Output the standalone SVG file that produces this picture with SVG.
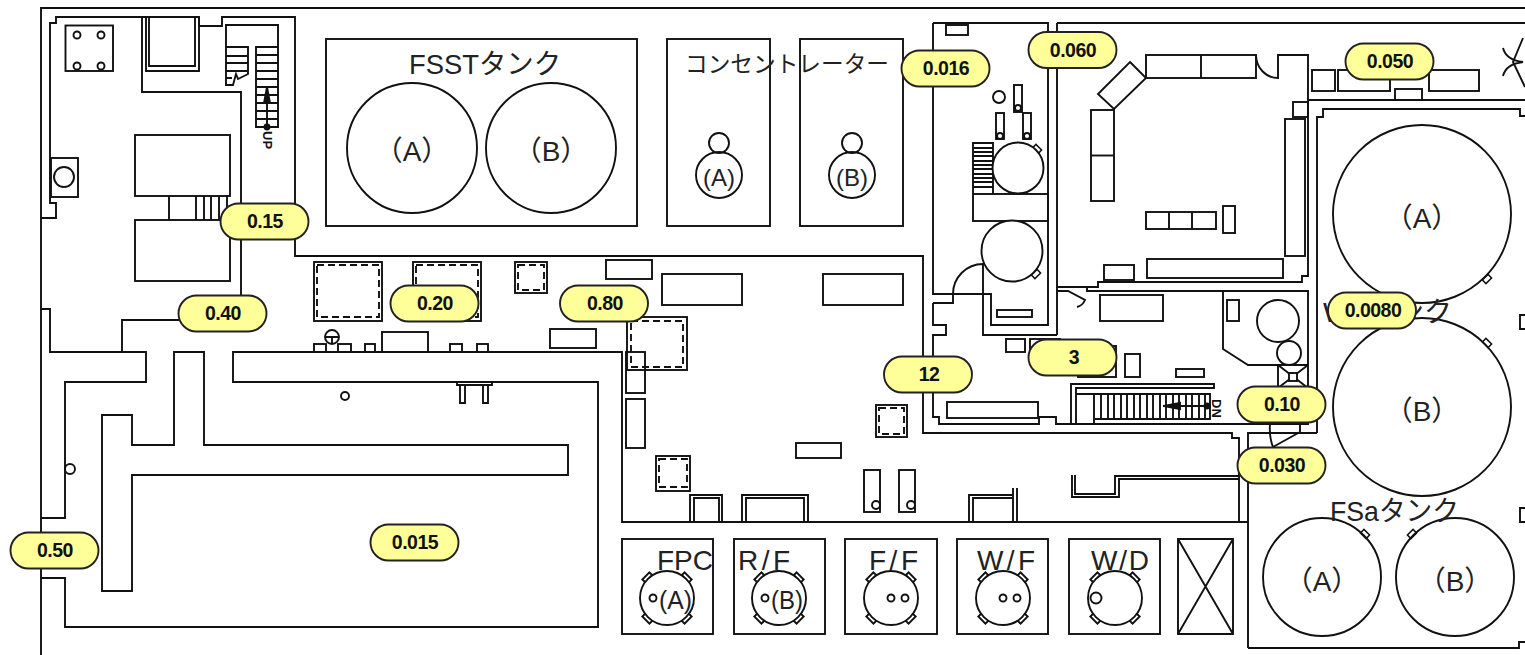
<svg xmlns="http://www.w3.org/2000/svg" width="1525" height="655" viewBox="0 0 1525 655">
<style>
.l{fill:none;stroke:#111;stroke-width:1.9}
.d{fill:none;stroke:#111;stroke-width:1.9;stroke-dasharray:7 4}
.t{font-family:"Liberation Sans","Noto Sans CJK JP",sans-serif;fill:#222;font-size:28px;stroke:none}
.m{font-size:24px;text-anchor:middle}
.c{text-anchor:middle}
.s{font-size:13px;font-weight:bold;fill:#111}
.b rect{fill:#ffff99;stroke:#222;stroke-width:1.9}
.b text{font-family:"Liberation Sans",sans-serif;font-weight:bold;font-size:19.5px;letter-spacing:-.5px;fill:#111;text-anchor:middle}
</style>
<defs>
<rect id="tab" x="-6" y="-2.500" width="12" height="5" fill="#fff" stroke="#111" stroke-width="1.9"/>
<rect id="tabs" x="-4" y="-2.500" width="8" height="5" fill="#fff" stroke="#111" stroke-width="1.5"/>
<rect id="tabp" x="-5" y="-3" width="10" height="6" fill="#fff" stroke="#111" stroke-width="1.9"/>
<g id="pool">
<use href="#tabp" transform="translate(-19,-20) rotate(-45)"/>
<use href="#tabp" transform="translate(19,-20) rotate(45)"/>
<use href="#tabp" transform="translate(-19,20) rotate(45)"/>
<use href="#tabp" transform="translate(19,20) rotate(-45)"/>
<circle r="27" fill="#fff" stroke="#111" stroke-width="1.9"/>
</g>
</defs>
<rect width="1525" height="655" fill="#fff"/>

<g id="walls" class="l">
<path d="M41,655V8H1525"/>
<path d="M41,218H56V203H50V23H56V17H199V26H222V17H295V256H923V433H1232V438H1239V522"/>
<path d="M142,17V92H241V295"/>
<path d="M122,351V320H180"/>
<path d="M41,309H50V352H146V382H65V518H41"/>
<path d="M41,578H65V627H598V382H233V352H622V522H1248"/>
<path d="M102,415H132V445H174V352H204V445H568V475H132V591H102Z"/>
<path d="M1057,23H1525M1057,23V287H1098V282H1302V276H1308V55H1278V78A22,23 0 0 1 1256,55"/>
<path d="M1308,100H1525M1317,433V117H1323V109H1520V116H1525"/>
<path d="M1248,648V433H1317M1248,648H1519V642H1525"/>
<path d="M933,23H1048V325H991V294H933V23M933,303H953V294A30,30 0 0 1 983,264V335H1057"/>
<path d="M1057,335V287M933,303V325H946V335H933V417H939V424H1039V417H1056V424H1308V291H1087V287M1057,291H1068L1085,300A12,12 0 0 1 1077,307"/>
<path d="M1223,291V349L1248,365H1308"/>
<path d="M1270,424Q1269,437 1273,447L1300,432V424"/>
<path d="M1072,475V497H1119V479H1239M1075,475V494H1115V476H1239"/>
<path d="M969,522V495H1013M973,522V498H1013M1013,522V488M1017,522V488"/>
<path d="M690,522V495H722V522M694,522V498H719V522M742,522V495H808V522M746,522V498H804V522"/>
<path d="M1503,48Q1506,60 1523,62Q1506,64 1503,76M1523,38L1513,62L1525,87"/>
<path d="M1525,315H1520V329H1525M1525,508H1520V522H1525"/>
</g>

<g id="stairs-nw" class="l">
<path d="M226,47V25H278V127H256V47H278M226,47H248V74L238,79L236,74L233,85L226,85V47"/>
<path d="M226,56H248M226,63H248M226,71H248M226,78H232M256,55H278M256,63H278M256,71H278M256,79H278M256,87H278M256,95H278M256,103H278M256,111H278M256,119H278"/>
<path d="M267,127V92"/>
<path d="M267,87L270,103H264Z" fill="#111"/>
<circle cx="267" cy="127" r="2.500" fill="#111"/>
<text class="t s" transform="translate(263,131) rotate(90)">UP</text>
</g>

<g id="nw-room" class="l">
<rect x="65.500" y="25.500" width="47.500" height="45.500"/>
<circle cx="77" cy="35" r="3.500"/><circle cx="101" cy="35" r="3.500"/><circle cx="77" cy="66" r="3.500"/><circle cx="101" cy="66" r="3.500"/>
<path d="M146,17V71H199V17M149,17V66H195V17"/>
<rect x="135" y="135" width="95" height="61"/>
<rect x="135" y="220" width="95" height="61"/>
<path d="M169,196V220M196,196V220M204,196V220M211,196V220M219,196V220M227,196V220"/>
<rect x="51" y="158" width="27" height="39"/>
<circle cx="64" cy="177" r="10"/>
<circle cx="70" cy="469" r="5"/>
</g>

<g id="fsst">
<rect class="l" x="326" y="39" width="311" height="187"/>
<circle class="l" cx="412" cy="148" r="65"/>
<circle class="l" cx="551" cy="148" r="65"/>
<text class="t" x="409" y="74" textLength="152" lengthAdjust="spacingAndGlyphs">FSSTタンク</text>
<text class="t c" x="412" y="161">（A）</text>
<text class="t c" x="551" y="161">（B）</text>
</g>

<g id="concentrator">
<rect class="l" x="667" y="39" width="103" height="187"/>
<rect class="l" x="800" y="39" width="103" height="187"/>
<circle class="l" cx="719" cy="143" r="10"/>
<circle class="l" cx="719" cy="175" r="23"/>
<circle class="l" cx="852" cy="143" r="10"/>
<circle class="l" cx="852" cy="175" r="23"/>
<text class="t m" x="719" y="186">(A)</text>
<text class="t m" x="852" y="186">(B)</text>
<text class="t" x="685" y="72" style="font-size:23px" textLength="204" lengthAdjust="spacingAndGlyphs">コンセントレーター</text>
</g>

<g id="mid-hall" class="l">
<rect x="314" y="262" width="68" height="59"/><rect class="d" x="317" y="265" width="62" height="52"/>
<rect x="413" y="262" width="68" height="59"/><rect class="d" x="416" y="265" width="62" height="52"/>
<rect x="515" y="262" width="32" height="31"/><rect class="d" x="518" y="265" width="26" height="25"/>
<rect x="606" y="260" width="46" height="19"/>
<rect x="662" y="274" width="80" height="31"/>
<rect x="823" y="274" width="80" height="31"/>
<rect x="550" y="329" width="46" height="19"/>
<rect x="627" y="317" width="60" height="53"/><rect class="d" x="631" y="321" width="52" height="46"/>
<rect x="626" y="352" width="19" height="41"/>
<rect x="626" y="399" width="19" height="49"/>
<circle cx="332" cy="337" r="7"/>
<path d="M326,337H338M332,337V344"/>
<rect x="314" y="344" width="12" height="8"/><rect x="338" y="344" width="13" height="8"/><rect x="365" y="344" width="10" height="8"/>
<rect x="382" y="332" width="46" height="20"/>
<rect x="450" y="344" width="12" height="8"/><rect x="477" y="344" width="11" height="8"/>
<circle cx="345" cy="396" r="4"/>
<path d="M457,382V385H492V382M460,385V403H465V385M483,385V403H488V385"/>
<rect x="876" y="405" width="31" height="32"/><rect class="d" x="879" y="408" width="25" height="26"/>
<rect x="656" y="456" width="34" height="35"/><rect class="d" x="659" y="459" width="28" height="28"/>
<rect x="796" y="443" width="45" height="15"/>
<rect x="864" y="470" width="16" height="42"/><circle cx="876" cy="505" r="4"/>
<rect x="899" y="470" width="16" height="42"/><circle cx="911" cy="505" r="4"/>
</g>

<g id="spent-room" class="l">
<rect x="946" y="25" width="22" height="10"/>
<circle cx="999" cy="97" r="6"/>
<rect x="1014" y="85" width="8" height="27"/><circle cx="1018" cy="108" r="3"/>
<rect x="996" y="113" width="8" height="26"/><circle cx="1000" cy="136" r="3"/>
<rect x="1023" y="113" width="8" height="26"/><circle cx="1027" cy="136" r="3"/>
<path d="M973,194V143H993V194M973,148H993M973,152H993M973,156H993M973,161H993M973,165H993M973,169H993M973,174H993M973,178H993M973,182H993M973,187H993"/>
<use href="#tabs" transform="translate(1037,149) rotate(45)"/>
<circle cx="1018" cy="168" r="25.500" fill="#fff"/>
<rect x="973" y="194" width="75" height="27"/>
<use href="#tabs" transform="translate(1036,274) rotate(-45)"/>
<circle cx="1012" cy="251" r="30.500" fill="#fff"/>
<rect x="997" y="310" width="35" height="7"/>
</g>

<g id="ne-room" class="l">
<path d="M1130,62L1146,78L1114,109L1098,94Z"/>
<rect x="1146" y="55" width="110" height="23"/><path d="M1201,55V78"/>
<rect x="1091" y="110" width="23" height="91"/><path d="M1091,155.500H1114"/>
<rect x="1146" y="212" width="70" height="17"/><path d="M1169,212V229M1192,212V229"/>
<rect x="1223" y="206" width="12" height="27"/>
<rect x="1285" y="119" width="20" height="137"/>
<rect x="1293" y="102" width="15" height="15"/>
<rect x="1147" y="259" width="136" height="19"/>
<rect x="1104" y="265" width="30" height="15"/>
<rect x="1312" y="70" width="23" height="21"/>
<rect x="1338" y="70" width="52" height="21"/>
<rect x="1429" y="70" width="50" height="21"/>
<rect x="1395" y="89" width="27" height="11"/>
</g>

<g id="se-room" class="l">
<rect x="1100" y="295" width="63" height="26"/>
<rect x="1227" y="300" width="12" height="21"/>
<circle cx="1278" cy="321" r="21"/>
<circle cx="1289" cy="353" r="12"/>
<path d="M1278,365V388M1278,365L1308,388M1308,365L1278,388"/>
<rect x="1289" y="373" width="8" height="8" fill="#fff"/>
<rect x="1006" y="339" width="19" height="13"/>
<rect x="1030" y="339" width="30" height="13"/>
<rect x="1078" y="346" width="38" height="31"/>
<rect x="1125" y="354" width="15" height="23"/>
<rect x="1176" y="369" width="28" height="8"/>
<rect x="947" y="402" width="91" height="16"/>
<path d="M1071,424V384H1214V388H1076V424M1076,394H1210V419H1095M1094,394V424"/>
<path d="M1101,394V419M1108,394V419M1114,394V419M1121,394V419M1127,394V419M1134,394V419M1140,394V419M1147,394V419M1153,394V419M1160,394V419M1166,394V419M1173,394V419M1179,394V419M1186,394V419M1192,394V419M1199,394V419M1205,394V419"/>
<path d="M1208,406H1163"/>
<path d="M1164,406L1180,403V409Z" fill="#111"/>
<circle cx="1207" cy="406" r="2.500" fill="#111"/>
<text class="t s" transform="translate(1212,399) rotate(90)">DN</text>
</g>

<g id="pools">
<rect class="l" x="622" y="539" width="91" height="95"/>
<rect class="l" x="734" y="539" width="91" height="95"/>
<rect class="l" x="845" y="539" width="92" height="95"/>
<rect class="l" x="957" y="539" width="91" height="95"/>
<rect class="l" x="1069" y="539" width="91" height="95"/>
<path class="l" d="M1178,539H1233V634H1178ZM1178,539L1233,634M1233,539L1178,634"/>
<use href="#pool" x="667" y="598"/><use href="#pool" x="779" y="598"/><use href="#pool" x="891" y="598"/><use href="#pool" x="1003" y="598"/><use href="#pool" x="1115" y="598"/>
<circle class="l" cx="653" cy="598" r="3.500"/><circle class="l" cx="765" cy="598" r="3.500"/>
<circle class="l" cx="891" cy="598" r="3.500"/><circle class="l" cx="905" cy="598" r="3.500"/>
<circle class="l" cx="1003" cy="598" r="3.500"/><circle class="l" cx="1017" cy="598" r="3.500"/>
<circle class="l" cx="1096" cy="598" r="5.500"/>
<text class="t" x="657" y="570">FPC</text>
<text class="t" x="738" y="570" textLength="52">R/F</text>
<text class="t" x="869" y="570" textLength="49">F/F</text>
<text class="t" x="977" y="570" textLength="58">W/F</text>
<text class="t" x="1091" y="570" textLength="58">W/D</text>
<text class="t" x="659" y="609" style="font-size:26px" textLength="33" lengthAdjust="spacingAndGlyphs">(A)</text>
<text class="t" x="771" y="609" style="font-size:26px" textLength="32" lengthAdjust="spacingAndGlyphs">(B)</text>
</g>

<g id="w-tanks">
<use href="#tabs" transform="translate(1487,279) rotate(-45)"/>
<use href="#tabs" transform="translate(1487,343) rotate(45)"/>
<circle class="l" cx="1422" cy="214" r="89"/>
<circle class="l" cx="1422" cy="407" r="89"/>
<text class="t c" x="1422" y="228">（A）</text>
<text class="t c" x="1422" y="421">（B）</text>
<text class="t" x="1323" y="322" textLength="129" lengthAdjust="spacingAndGlyphs">WSタンク</text>
</g>

<g id="fsa-tanks">
<use href="#tabs" transform="translate(1365,534) rotate(45)"/>
<use href="#tabs" transform="translate(1412,534) rotate(-45)"/>
<circle class="l" cx="1322" cy="577" r="59"/>
<circle class="l" cx="1455" cy="577" r="59"/>
<text class="t" x="1330" y="521" textLength="129" lengthAdjust="spacingAndGlyphs">FSaタンク</text>
<text class="t c" x="1322" y="591">（A）</text>
<text class="t c" x="1455" y="591">（B）</text>
</g>

<g id="badges" class="b">
<g id="b-015"><rect x="220.500" y="203.500" width="88" height="36" rx="18"/><text x="265" y="228">0.15</text></g>
<g id="b-040"><rect x="178.500" y="295.500" width="88" height="36" rx="18"/><text x="223" y="320">0.40</text></g>
<g id="b-020"><rect x="390.500" y="285.500" width="88" height="36" rx="18"/><text x="435" y="310">0.20</text></g>
<g id="b-080"><rect x="560" y="285.500" width="88" height="36" rx="18"/><text x="605" y="310">0.80</text></g>
<g id="b-0016"><rect x="901.500" y="50.500" width="88" height="36" rx="18"/><text x="946" y="75">0.016</text></g>
<g id="b-0060"><rect x="1028.500" y="32" width="88" height="36" rx="18"/><text x="1073" y="56.500">0.060</text></g>
<g id="b-0050"><rect x="1345.500" y="43.500" width="88" height="36" rx="18"/><text x="1390" y="68">0.050</text></g>
<g id="b-00080"><rect x="1328" y="292.500" width="88" height="36" rx="18"/><text x="1373" y="317">0.0080</text></g>
<g id="b-12"><rect x="884" y="356.500" width="88" height="36" rx="18"/><text x="929" y="381">12</text></g>
<g id="b-3"><rect x="1028.500" y="339.500" width="88" height="36" rx="18"/><text x="1074" y="364">3</text></g>
<g id="b-010"><rect x="1237.500" y="386.500" width="88" height="36" rx="18"/><text x="1282" y="411">0.10</text></g>
<g id="b-0030"><rect x="1237.500" y="447.500" width="88" height="36" rx="18"/><text x="1282" y="472">0.030</text></g>
<g id="b-050"><rect x="10.500" y="532.500" width="88" height="36" rx="18"/><text x="55" y="557">0.50</text></g>
<g id="b-0015"><rect x="370.500" y="524.500" width="88" height="36" rx="18"/><text x="415" y="549">0.015</text></g>
</g>
</svg>
